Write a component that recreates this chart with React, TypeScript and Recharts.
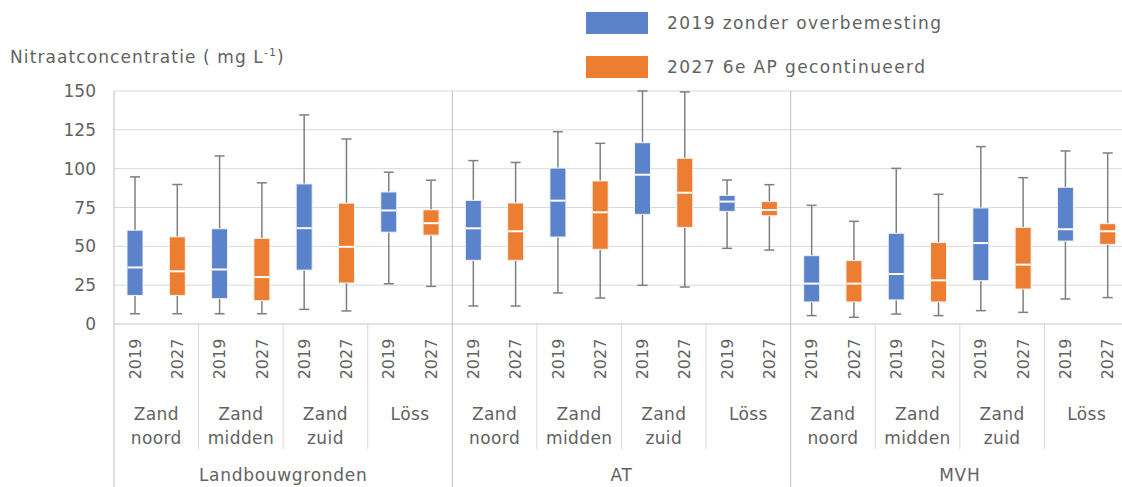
import React from "react";
import { ComposedChart, Bar, XAxis, YAxis, CartesianGrid } from "recharts";

const groups = ["Landbouwgronden", "AT", "MVH"];
const subgroups = [["Zand", "noord"], ["Zand", "midden"], ["Zand", "zuid"], ["Löss"]];
const years = ["2019", "2027"];
const yTicks = [0, 25, 50, 75, 100, 125, 150];

// per box, in order: group -> subgroup -> year
const minVals = [
  6.6, 6.6, 6.6, 6.6, 9.4, 8.4, 25.9, 24.2,
  11.6, 11.6, 20, 16.7, 24.9, 23.8, 48.7, 47.6,
  5.4, 4.3, 6.4, 5.4, 8.6, 7.5, 16.1, 17,
];
const q1Vals = [
  18.4, 18.4, 16.3, 15, 34.7, 26.4, 59.1, 57.2,
  41, 41, 56, 48.1, 70.6, 62.2, 72.5, 69.7,
  14.2, 14.2, 15.5, 14.2, 27.9, 22.5, 53.4, 51.3,
];
const medianVals = [
  36.4, 33.9, 35.1, 30.2, 61.7, 49.7, 73.1, 64.9,
  61.6, 59.7, 79.4, 71.9, 96.1, 84.5, 78.8, 73.4,
  26, 26, 32.2, 28.1, 52.1, 38.2, 61, 59.7,
];
const q3Vals = [
  60.4, 56.1, 61.3, 55.1, 90.2, 77.8, 85, 73.5,
  79.6, 77.9, 100.4, 92.1, 116.7, 106.7, 82.8, 78.8,
  44, 40.8, 58.4, 52.4, 74.7, 62.2, 88, 64.6,
];
const maxVals = [
  94.7, 89.8, 108.2, 90.9, 134.6, 119.1, 97.7, 92.6,
  105.2, 104, 123.8, 116.3, 150, 149.4, 92.7, 89.7,
  76.4, 66.1, 100.2, 83.5, 114.2, 94.2, 111.4, 110.1,
];

const BLUE = "#5b83cb";
const ORANGE = "#ed7d31";
const TEXT = "#626262";
const FONT = "DejaVu Sans, sans-serif";

const rows = minVals.map((_, i) => {
  const g = Math.floor(i / 8);
  const s = Math.floor((i % 8) / 2);
  const yr = i % 2;
  return {
    key: `${groups[g]}-${subgroups[s].join(" ")}-${years[yr]}`,
    year: years[yr],
    group: groups[g],
    sub: subgroups[s],
    min: minVals[i],
    q1: q1Vals[i],
    median: medianVals[i],
    q3: q3Vals[i],
    max: maxVals[i],
  };
});

const CHART_W = 1140;
const CHART_H = 487;
const PLOT_LEFT = 114;
const PLOT_RIGHT_MARGIN = 11;
const PLOT_TOP = 91;
const PLOT_BOTTOM = 324;
const BAND = (CHART_W - PLOT_LEFT - PLOT_RIGHT_MARGIN) / rows.length;

function BoxShape(props: any) {
  const { x, y, width, height, payload } = props;
  const top = Math.min(y, y + height);
  const bottom = Math.max(y, y + height);
  const span = payload.max - payload.min;
  const pxPer = span > 0 ? (bottom - top) / span : 0;
  const toY = (v: number) => bottom - (v - payload.min) * pxPer;
  const cx = x + width / 2;
  const fill = payload.year === "2019" ? BLUE : ORANGE;
  const yQ1 = toY(payload.q1);
  const yQ3 = toY(payload.q3);
  const yMed = toY(payload.median);
  return (
    <g>
      <line x1={cx} x2={cx} y1={top} y2={bottom} stroke="#7f7f7f" strokeWidth={1.5} />
      <line x1={cx - 5} x2={cx + 5} y1={top} y2={top} stroke="#7f7f7f" strokeWidth={1.5} />
      <line x1={cx - 5} x2={cx + 5} y1={bottom} y2={bottom} stroke="#7f7f7f" strokeWidth={1.5} />
      <rect x={x} y={yQ3} width={width} height={yQ1 - yQ3} fill={fill} stroke="#f4f4f4" strokeWidth={1} />
      <line x1={x + 0.5} x2={x + width - 0.5} y1={yMed} y2={yMed} stroke="#ffffff" strokeWidth={2} />
    </g>
  );
}

function CategoryTick(props: any) {
  const { x, payload } = props;
  const i = payload.index;
  const row = rows[i];
  if (!row) return null;
  const left = x - BAND / 2;
  const isSubStart = i % 2 === 0;
  const isGroupStart = i % 8 === 0;
  const subCx = left + BAND;
  return (
    <g>
      <text
        x={x}
        y={359}
        transform={`rotate(-90 ${x} 359)`}
        textAnchor="middle"
        dominantBaseline="central"
        fill={TEXT}
        fontSize={16}
        fontFamily={FONT}
      >
        {row.year}
      </text>
      {isSubStart && (
        <>
          {isGroupStart ? (
            <line x1={left} x2={left} y1={PLOT_TOP} y2={CHART_H} stroke="#bfbfbf" strokeWidth={1} />
          ) : (
            <line x1={left} x2={left} y1={PLOT_BOTTOM} y2={449} stroke="#d9d9d9" strokeWidth={1} />
          )}
          {row.sub.map((w: string, k: number) => (
            <text
              key={k}
              x={subCx}
              y={414 + k * 24}
              textAnchor="middle"
              dominantBaseline="central"
              fill={TEXT}
              fontSize={17}
              fontFamily={FONT}
              letterSpacing={0.4}
            >
              {w}
            </text>
          ))}
        </>
      )}
      {isGroupStart && (
        <text
          x={left + BAND * 4}
          y={475}
          textAnchor="middle"
          dominantBaseline="central"
          fill={TEXT}
          fontSize={17}
          fontFamily={FONT}
          letterSpacing={0.7}
        >
          {row.group}
        </text>
      )}
    </g>
  );
}

export default function App() {
  return (
    <div
      style={{
        position: "absolute",
        left: 0,
        top: 0,
        width: 1122,
        height: CHART_H,
        overflow: "hidden",
        background: "#fff",
        fontFamily: FONT,
        color: TEXT,
      }}
    >
      <div style={{ position: "absolute", left: 10, top: 46, fontSize: 17, letterSpacing: 1.1, whiteSpace: "nowrap" }}>
        Nitraatconcentratie ( mg L<sup style={{ fontSize: 11 }}>-1</sup>)
      </div>
      <div style={{ position: "absolute", left: 586, top: 12, fontSize: 17, letterSpacing: 1.4 }}>
        {[
          { label: "2019 zonder overbemesting", color: BLUE },
          { label: "2027 6e AP gecontinueerd", color: ORANGE },
        ].map((e) => (
          <div key={e.label} style={{ display: "flex", alignItems: "center", height: 22, marginBottom: 22 }}>
            <div style={{ width: 62, height: 22, background: e.color, marginRight: 19 }} />
            <span style={{ whiteSpace: "nowrap" }}>{e.label}</span>
          </div>
        ))}
      </div>
      <ComposedChart
        width={CHART_W}
        height={CHART_H}
        data={rows}
        margin={{ top: PLOT_TOP, right: PLOT_RIGHT_MARGIN, left: 0, bottom: 0 }}
        barCategoryGap={0}
      >
        <CartesianGrid vertical={false} stroke="#d9d9d9" />
        <XAxis
          dataKey="key"
          type="category"
          interval={0}
          height={CHART_H - PLOT_BOTTOM}
          tickLine={false}
          axisLine={{ stroke: "#d9d9d9" }}
          tick={<CategoryTick />}
        />
        <YAxis
          domain={[0, 150]}
          ticks={yTicks}
          width={PLOT_LEFT}
          tickLine={false}
          axisLine={false}
          tickSize={0}
          tickMargin={18}
          tick={{ fill: TEXT, fontSize: 17, fontFamily: FONT }}
        />
        <Bar
          dataKey={(d: any) => [d.min, d.max]}
          barSize={16}
          shape={<BoxShape />}
          isAnimationActive={false}
        />
      </ComposedChart>
    </div>
  );
}
